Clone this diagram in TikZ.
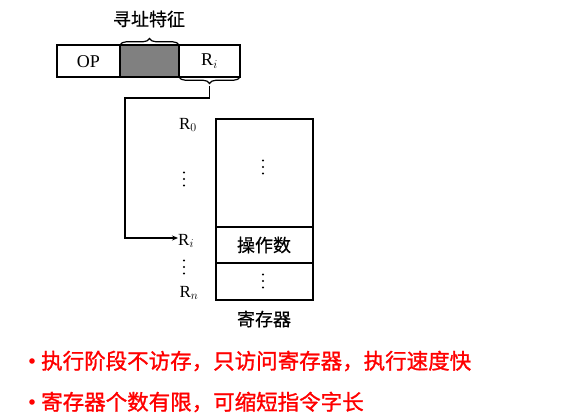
\documentclass[tikz,border=0pt]{standalone}
\usepackage{fontspec}
\setmainfont{Liberation Serif}
\newfontfamily\cjk[FakeBold=0.6]{Noto Sans CJK SC}
\newfontfamily\cjkred[FakeBold=1.2]{Noto Sans CJK SC}
\usetikzlibrary{decorations.pathreplacing,arrows.meta}
\begin{document}
\begin{tikzpicture}[x=1pt,y=-1pt,
  box/.style={draw,line width=1.4pt},
  lbl/.style={font=\fontsize{17}{17}\selectfont,inner sep=0pt},
  cjklbl/.style={font=\cjk\fontsize{18}{18}\selectfont,inner sep=0pt},
  redtxt/.style={font=\cjkred\fontsize{21.5}{21.5}\selectfont,text=red,inner sep=0pt,anchor=west},
  brc/.style={decorate,decoration={brace,amplitude=6.5pt},line width=1.2pt},
  conn/.style={line width=1.3pt},
  vdot/.pic={\fill (0,-6.5) circle (1.2) (0,0) circle (1.2) (0,6.5) circle (1.2);}]
\useasboundingbox (0,0) rectangle (584,420);
% instruction
\draw[box] (57,45) rectangle (120,77);
\draw[box,fill=black!50] (120,45) rectangle (179,77);
\draw[box] (179,45) rectangle (240,77);
\node[font=\fontsize{18}{18}\selectfont,inner sep=0pt] (op) at (88.5,62) {OP};
\node[font=\fontsize{18}{18}\selectfont,inner sep=0pt] (ri) at (209.5,61) {R$_i$};
\draw[brc] (120,45) -- (179,45) coordinate[midway] (bt);
\node[cjklbl] (feat) at (149,19) {寻址特征};
\draw[brc] (240,77) -- (179,77);
\coordinate (bb) at (209.5,86);
% registers
\draw[box] (216,119) rectangle (313,300);
\draw[line width=1.4pt] (216,227) -- (313,227);
\draw[line width=1.4pt] (216,263) -- (313,263);
\pic at (263,167) {vdot};
\node[cjklbl] (opnd) at (264,245) {操作数};
\pic at (263,281) {vdot};
\node[cjklbl] (reg) at (264,319) {寄存器};
\node[lbl] (r0) at (188,125) {R$_0$};
\pic at (184,179) {vdot};
\node[lbl,anchor=west] (rri) at (178,241) {R$_i$};
\pic at (184,267) {vdot};
\node[lbl] (rn) at (189,293) {R$_n$};
\draw[conn,-{Stealth[length=6pt,width=5pt]}] (bb) -- (209.5,98) -- (125,98) -- (125,238) -- (rri.west|-125,238);
% bullets
\fill[red] (32,361) circle (2.8);
\node[redtxt] (t1) at (41,361) {执行阶段不访存，只访问寄存器，执行速度快};
\fill[red] (32,402) circle (2.8);
\node[redtxt] (t2) at (41,402) {寄存器个数有限，可缩短指令字长};
\end{tikzpicture}
\end{document}
